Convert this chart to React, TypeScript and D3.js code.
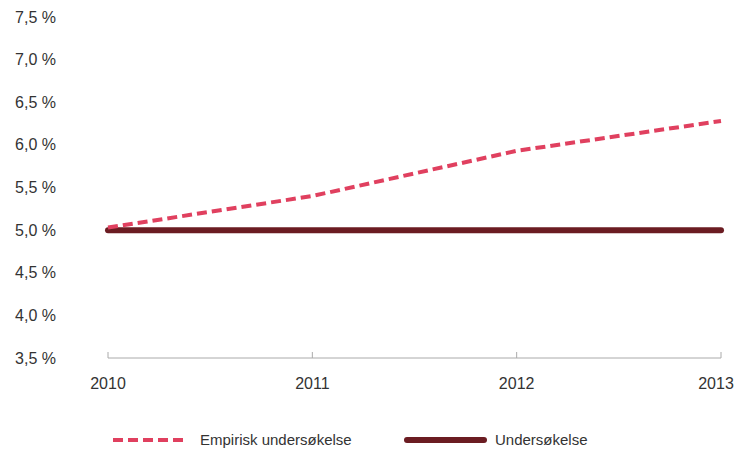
import React from "react";
import * as d3 from "d3";

const years = ["2010", "2011", "2012", "2013"];
const empirisk = [5.03, 5.4, 5.93, 6.28];
const undersokelse = [5.0, 5.0, 5.0, 5.0];
const yTicks = [3.5, 4.0, 4.5, 5.0, 5.5, 6.0, 6.5, 7.0, 7.5];
const seriesNames = ["Empirisk undersøkelse", "Undersøkelse"];

export default function App() {
  const W = 737, H = 452;
  const x = d3.scalePoint<string>().domain(years).range([108, 721]);
  const y = d3.scaleLinear().domain([3.5, 7.5]).range([358, 17]);
  const line = d3
    .line<number>()
    .x((_, i) => x(years[i]) as number)
    .y((d) => y(d));
  const fmt = (v: number) => v.toFixed(1).replace(".", ",") + " %";
  const font = "'Liberation Sans', Arial, sans-serif";
  return (
    <svg width={W} height={H} style={{ position: "absolute", left: 0, top: 0 }}>
      <rect width={W} height={H} fill="#fff" />
      {yTicks.map((t) => (
        <text key={t} x={56} y={y(t)} dy="0.35em" textAnchor="end" fontFamily={font} fontSize={16} fill="#333">
          {fmt(t)}
        </text>
      ))}
      <line x1={x("2010")} x2={x("2013")} y1={y(3.5)} y2={y(3.5)} stroke="#aaa" strokeWidth={1} />
      {years.map((yr) => (
        <g key={yr}>
          <line x1={x(yr)} x2={x(yr)} y1={y(3.5) - 6} y2={y(3.5)} stroke="#aaa" strokeWidth={1} />
          <text
            x={Math.min(x(yr) as number, W - 21)}
            y={389}
            textAnchor="middle"
            fontFamily={font}
            fontSize={16}
            fill="#333"
          >
            {yr}
          </text>
        </g>
      ))}
      <path d={line(undersokelse) || ""} fill="none" stroke="#6b1c22" strokeWidth={6} strokeLinecap="round" />
      <path d={line(empirisk) || ""} fill="none" stroke="#e0405f" strokeWidth={4} strokeDasharray="10 5" />
      <line x1={113} x2={188} y1={440} y2={440} stroke="#e0405f" strokeWidth={4} strokeDasharray="10 5" />
      <text x={200} y={440} dy="0.35em" fontFamily={font} fontSize={15} fill="#333">{seriesNames[0]}</text>
      <line x1={407} x2={484} y1={440} y2={440} stroke="#6b1c22" strokeWidth={6} strokeLinecap="round" />
      <text x={495} y={440} dy="0.35em" fontFamily={font} fontSize={15} fill="#333">{seriesNames[1]}</text>
    </svg>
  );
}
